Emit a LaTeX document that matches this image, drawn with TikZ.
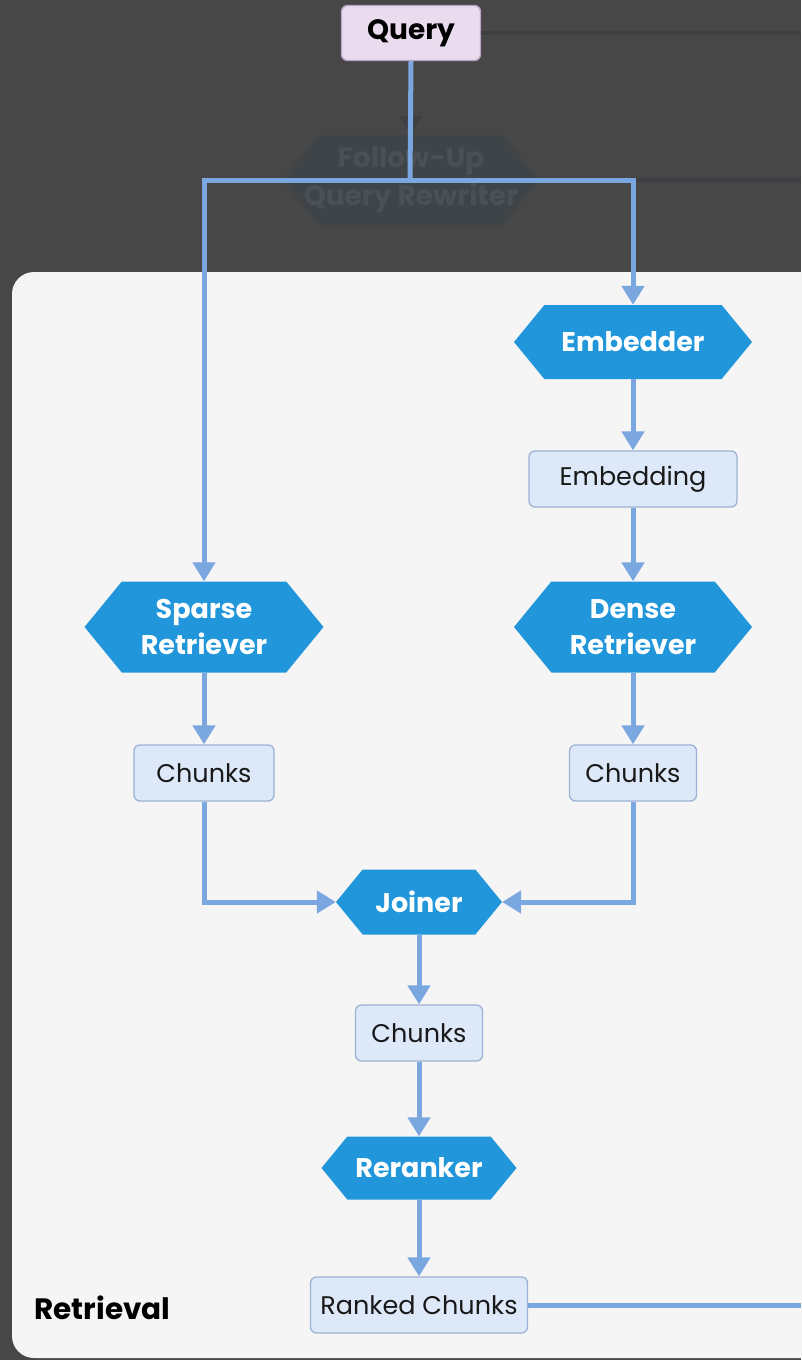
\documentclass[tikz,border=0pt]{standalone}
\usepackage{fontspec}
\setmainfont{Poppins}
\usetikzlibrary{arrows.meta,calc}
\definecolor{bgdark}{HTML}{474747}
\definecolor{panel}{HTML}{F5F5F5}
\definecolor{hexblue}{HTML}{2196DA}
\definecolor{flowblue}{HTML}{7BA7E1}
\definecolor{boxfill}{HTML}{DDE8F8}
\definecolor{boxline}{HTML}{9DB2D4}
\definecolor{qfill}{HTML}{EADCEE}
\definecolor{qline}{HTML}{B9A3C2}
\definecolor{fadefill}{HTML}{3F4448}
\definecolor{fadetext}{HTML}{4A5055}
\definecolor{fadeline}{HTML}{3D3F42}
\tikzset{
  hexnode/.style={rectangle, minimum width=#1, inner sep=0pt, align=center,
    text=white, font=\fontsize{27}{36}\selectfont\bfseries,
    path picture={\fill[hexblue] let \p1=(path picture bounding box.south west),
      \p2=(path picture bounding box.north east), \n1={0.41*(\y2-\y1)} in
      (\x1,{(\y1+\y2)/2}) -- (\x1+\n1,\y2) -- (\x2-\n1,\y2) -- (\x2,{(\y1+\y2)/2})
      -- (\x2-\n1,\y1) -- (\x1+\n1,\y1) -- cycle;}},
  fadehex/.style={rectangle, minimum width=#1, inner sep=0pt, align=center,
    text=fadetext, font=\fontsize{28}{38}\selectfont\bfseries,
    path picture={\fill[fadefill] let \p1=(path picture bounding box.south west),
      \p2=(path picture bounding box.north east), \n1={0.41*(\y2-\y1)} in
      (\x1,{(\y1+\y2)/2}) -- (\x1+\n1,\y2) -- (\x2-\n1,\y2) -- (\x2,{(\y1+\y2)/2})
      -- (\x2-\n1,\y1) -- (\x1+\n1,\y1) -- cycle;}},
  databox/.style={rectangle, rounded corners=6pt, draw=boxline, line width=1.3pt,
    fill=boxfill, minimum width=#1, minimum height=56pt, inner sep=0pt,
    text=black!90, font=\fontsize{25.5}{30}\selectfont},
  querybox/.style={rectangle, rounded corners=6pt, draw=qline, line width=1.3pt,
    fill=qfill, minimum width=139pt, minimum height=55pt, inner sep=0pt,
    text=black, font=\fontsize{28}{32}\selectfont\bfseries},
  flow/.style={draw=flowblue, line width=5pt},
  flowarrow/.style={flow, -{Triangle[width=22pt,length=19pt]}},
  fade/.style={draw=fadeline, line width=4pt},
}
\begin{document}
\begin{tikzpicture}[x=1pt,y=-1pt]
\useasboundingbox (0,0) rectangle (801,1360);
\fill[bgdark] (0,0) rectangle (801,1360);
\fill[panel, rounded corners=22pt] (12,272) rectangle (840,1358);
% faded background elements
\node[fadehex=257pt, minimum height=90pt] (fu) at (411,180) {Follow-Up\\Query Rewriter};
\coordinate (qout) at (801,33);
\coordinate (fuout) at (801,180);
% nodes
\node[querybox] (query) at (411,33) {Query};
\draw[fade] (query.east) -- (qout);
\draw[fade] (fu.east) -- (fuout);
\draw[fade, -{Triangle[width=22pt,length=19pt]}] (query.south) -- (fu.north);
\node[hexnode=238pt, minimum height=74pt] (embedder) at (633,342) {Embedder};
\node[databox=208pt] (embedding) at (633,479) {Embedding};
\node[hexnode=238pt, minimum height=91pt] (dense) at (633,627) {Dense\\Retriever};
\node[hexnode=239pt, minimum height=91pt] (sparse) at (204,627) {Sparse\\Retriever};
\node[databox=140pt] (chunksL) at (204,773) {Chunks};
\node[databox=127pt] (chunksR) at (633,773) {Chunks};
\node[hexnode=166pt, minimum height=65pt] (joiner) at (419,902) {Joiner};
\node[databox=127pt] (chunksM) at (419,1033) {Chunks};
\node[hexnode=195pt, minimum height=63pt] (reranker) at (419,1168) {Reranker};
\node[databox=217pt] (ranked) at (419,1305) {Ranked Chunks};
\node[anchor=west, font=\fontsize{29.5}{32}\selectfont\bfseries, text=black] (label) at (31,1308) {Retrieval};
\coordinate (split) at (410,180);
\coordinate (rout) at (801,1305);
% connectors
\draw[flow] (query.south) -- (split);
\draw[flowarrow] (split) -| (sparse.north);
\draw[flowarrow] (split) -| (embedder.north);
\draw[flowarrow] (embedder) -- (embedding);
\draw[flowarrow] (embedding) -- (dense);
\draw[flowarrow] (dense) -- (chunksR);
\draw[flowarrow] (sparse) -- (chunksL);
\draw[flowarrow] (chunksL.south) |- (joiner.west);
\draw[flowarrow] (chunksR.south) |- (joiner.east);
\draw[flowarrow] (joiner) -- (chunksM);
\draw[flowarrow] (chunksM) -- (reranker);
\draw[flowarrow] (reranker) -- (ranked);
\draw[flow] (ranked.east) -- (rout);
\end{tikzpicture}
\end{document}
